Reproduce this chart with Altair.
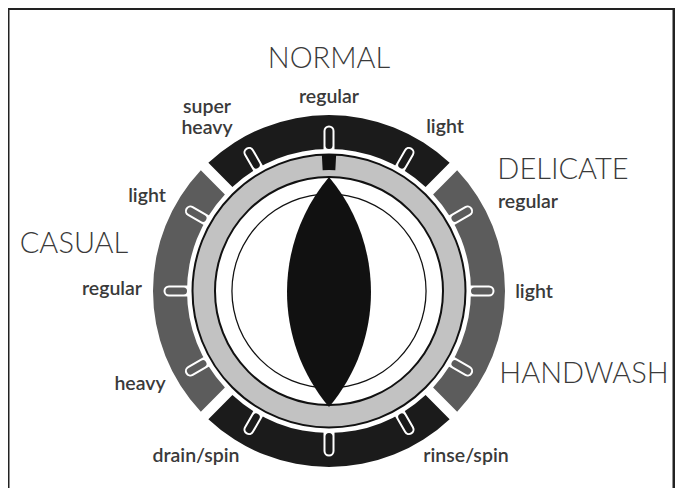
import altair as alt
import pandas as pd

# ---- dial data ----
segment_names = ["NORMAL", "DELICATE/HANDWASH", "SPIN", "CASUAL"]
segment_start = [-45, 45, 135, 225]
segment_end = [45, 135, 225, 315]
segment_shade = ["dark", "mid", "dark", "mid"]

tick_angles = [0, 30, 60, 90, 120, 150, 180, 210, 240, 270, 300, 330]
tick_shade = ["dark", "dark", "mid", "mid", "mid", "dark",
              "dark", "dark", "mid", "mid", "mid", "dark"]

group_labels = ["NORMAL", "DELICATE", "HANDWASH", "CASUAL"]
group_x = [0, 234, 255, -255]
group_y = [232, 121, -83, 47]

setting_labels = ["regular", "super", "heavy", "light", "regular", "light",
                  "rinse/spin", "drain/spin", "heavy", "regular", "light"]
setting_x = [0, -122, -122, 116, 199, 205, 137, -133, -189, -217, -182]
setting_y = [194, 184.5, 163, 164, 89, -1, -165, -165, -93, 2, 95]

frame_x = [-322, -321, 345]
frame_y = [282.5, 291, 291]
frame_x2 = [351, -321, 345]
frame_y2 = [282.5, -205, -205]

# ---- tables ----
seg_df = pd.DataFrame({"name": segment_names, "start": segment_start,
                       "end": segment_end, "shade": segment_shade, "cx": 0, "cy": 0})
tick_df = pd.DataFrame({"angle": tick_angles, "shade": tick_shade})
ring_df = pd.DataFrame({"start": [0], "end": [360], "cx": [0], "cy": [0]})
mark_df = pd.DataFrame({"start": [-3], "end": [3], "cx": [0], "cy": [0]})
lens_df = pd.DataFrame({"cx": [0], "cy": [-1]})
group_df = pd.DataFrame({"label": group_labels, "x": group_x, "y": group_y})
setting_df = pd.DataFrame({"label": setting_labels, "x": setting_x, "y": setting_y})
frame_df = pd.DataFrame({"x": frame_x, "y": frame_y, "x2": frame_x2, "y2": frame_y2})

XS = alt.Scale(domain=[-321, 346], nice=False, zero=False)
YS = alt.Scale(domain=[-197, 283], nice=False, zero=False)
TS = alt.Scale(domain=[0, 360], range=[0, 6.283185307179586])
SHADE = alt.Scale(domain=["dark", "mid"], range=["#1b1b1b", "#5c5c5c"])

cx = alt.X("cx:Q", scale=XS, axis=None)
cy = alt.Y("cy:Q", scale=YS, axis=None)
th = alt.Theta("start:Q", scale=TS, stack=None)
th2 = alt.Theta2("end:Q")

segments = alt.Chart(seg_df).mark_arc(radius=176, radius2=142, padAngle=0.047).encode(
    x=cx, y=cy, theta=th, theta2=th2,
    color=alt.Color("shade:N", scale=SHADE, legend=None))

tick_base = alt.Chart(tick_df).transform_calculate(
    s="sin(datum.angle*PI/180)", c="cos(datum.angle*PI/180)")
tick_white = tick_base.transform_calculate(
    x1="datum.s*141", y1="datum.c*141", x2="datum.s*160", y2="datum.c*160"
).mark_rule(strokeWidth=11, strokeCap="round", color="white").encode(
    x=alt.X("x1:Q", scale=XS, axis=None), y=alt.Y("y1:Q", scale=YS, axis=None),
    x2="x2:Q", y2="y2:Q")
tick_inner = tick_base.transform_calculate(
    x1="datum.s*145.5", y1="datum.c*145.5", x2="datum.s*160", y2="datum.c*160"
).mark_rule(strokeWidth=7, strokeCap="round").encode(
    x=alt.X("x1:Q", scale=XS, axis=None), y=alt.Y("y1:Q", scale=YS, axis=None),
    x2="x2:Q", y2="y2:Q",
    color=alt.Color("shade:N", scale=SHADE, legend=None))

gray_ring = alt.Chart(ring_df).mark_arc(
    radius=136.5, radius2=114, color="#c2c2c2", stroke="#111", strokeWidth=2).encode(
    x=cx, y=cy, theta=th, theta2=th2)

marker = alt.Chart(mark_df).mark_arc(radius=137, radius2=121, color="#111").encode(
    x=cx, y=cy, theta=th, theta2=th2)

inner_circle = alt.Chart(ring_df).mark_arc(radius=97.7, radius2=96.4, color="#111").encode(
    x=cx, y=cy, theta=th, theta2=th2)

lens_path = "M0,-1A1.552,1.552,0,0,1,0,1A1.552,1.552,0,0,1,0,-1Z"
lens = alt.Chart(lens_df).mark_point(
    shape=lens_path, size=230 * 230, filled=True, color="#111", opacity=1, strokeWidth=0
).encode(x=cx, y=cy)

groups = alt.Chart(group_df).mark_text(
    font="Lato", fontSize=29, fontWeight=300, color="#3a3a3a",
    align="center", baseline="middle").encode(
    x=alt.X("x:Q", scale=XS, axis=None), y=alt.Y("y:Q", scale=YS, axis=None),
    text="label:N")

settings = alt.Chart(setting_df).mark_text(
    font="Lato", fontSize=19.5, fontWeight=600, color="#3a3a3a",
    align="center", baseline="middle").encode(
    x=alt.X("x:Q", scale=XS, axis=None), y=alt.Y("y:Q", scale=YS, axis=None),
    text="label:N")

frame = alt.Chart(frame_df).mark_rule(color="#222", strokeWidth=3).encode(
    x=alt.X("x:Q", scale=XS, axis=None), y=alt.Y("y:Q", scale=YS, axis=None),
    x2="x2:Q", y2="y2:Q")

chart = alt.layer(
    segments, tick_white, tick_inner, gray_ring, marker, inner_circle, lens,
    groups, settings, frame
).properties(
    width=667, height=480, padding=0, autosize="none", background="white"
).configure_view(stroke=None)

chart.save("out.html", embed_options={"renderer": "svg", "actions": False})
